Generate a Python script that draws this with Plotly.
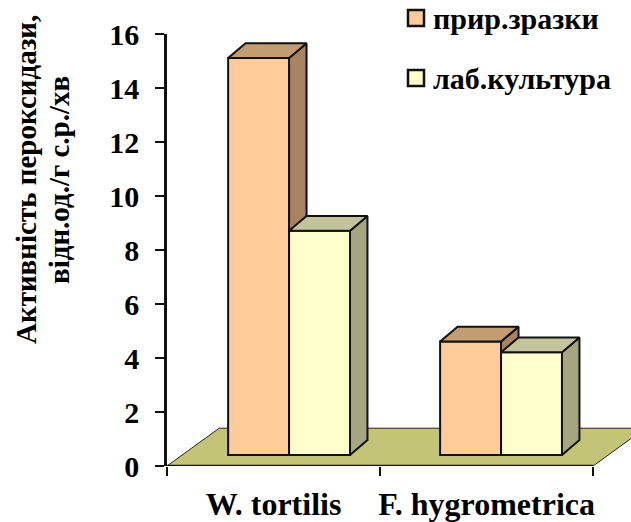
import plotly.graph_objects as go

categories = ["W. tortilis", "F. hygrometrica"]
series_names = ["прир.зразки", "лаб.культура"]
natural_samples = [14.7, 4.2]
lab_culture = [8.3, 3.8]
y_ticks = [0, 2, 4, 6, 8, 10, 12, 14, 16]
y_title_lines = ["Активність пероксидази,", "відн.од./г с.р./хв"]

FONT = "Liberation Serif"
BASE = 0.41      # bar foot above the axis zero because of the 3-D floor
WIDTH = 0.286    # bar width in axis units
DX, DY = 0.082, 0.55   # 3-D depth of a bar
GROUP_X = [0.43, 1.425]
FRONT = ["#FFCC99", "#FFFFCC"]

# plot-area geometry, in page pixels
W, H = 631, 522
L, B, T = 167, 56, 34
PW, PH = W - L, H - B          # paper area: x from L to W, y from 0 to H-B


def px(x):
    return (x - L) / PW


def py(y):
    return (H - B - y) / PH


fig = go.Figure()


def add_series(name, values, offset, front, top, side, xa, ya):
    xs = [g + offset for g in GROUP_X]
    fig.add_trace(go.Bar(
        x=xs, y=values, base=[BASE] * len(values), width=WIDTH, name=name,
        marker=dict(color=front, line=dict(color="#111111", width=2)),
        xaxis=xa, yaxis=ya, showlegend=False, hoverinfo="skip",
    ))
    for x, v in zip(xs, values):
        l, r = x - WIDTH / 2, x + WIDTH / 2
        t = BASE + v
        fig.add_trace(go.Scatter(
            x=[r, r + DX, r + DX, r, r], y=[BASE, BASE + DY, t + DY, t, BASE],
            mode="lines", fill="toself", fillcolor=side,
            line=dict(color="#111111", width=2), showlegend=False,
            xaxis=xa, yaxis=ya, hoverinfo="skip",
        ))
        fig.add_trace(go.Scatter(
            x=[l, l + DX, r + DX, r, l], y=[t, t + DY, t + DY, t, t],
            mode="lines", fill="toself", fillcolor=top,
            line=dict(color="#111111", width=2), showlegend=False,
            xaxis=xa, yaxis=ya, hoverinfo="skip",
        ))


add_series(series_names[0], natural_samples, 0, FRONT[0], "#C49C72", "#A88360", "x", "y")
add_series(series_names[1], lab_culture, 0.286, FRONT[1], "#C4C49C", "#A5A580", "x2", "y2")

# x axis line, drawn to the last category boundary only
fig.add_trace(go.Scatter(x=[0, 2], y=[0, 0], mode="lines", line=dict(color="#111111", width=2.5),
                         showlegend=False, hoverinfo="skip", cliponaxis=False))

x_range = [0, 2.178]
y_domain = [0, (H - B - T) / PH]
title_font = dict(size=29, family=FONT, weight="bold")
legend_font = dict(size=30, family=FONT, weight="bold")

shapes = [dict(type="path", xref="x", yref="y", layer="below",
               path="M 0 0 L 0.245 1.4 L 2.245 1.4 L 2 0 Z",
               fillcolor="#C4C477", line=dict(color="#222222", width=1))]
annotations = [dict(text=y_title_lines[0], xref="paper", yref="paper", x=px(26), y=py(180),
                    xanchor="center", yanchor="middle", textangle=-90, showarrow=False,
                    font=title_font),
               dict(text=y_title_lines[1], xref="paper", yref="paper", x=px(59), y=py(180),
                    xanchor="center", yanchor="middle", textangle=-90, showarrow=False,
                    font=title_font)]
for name, color, cy in zip(series_names, FRONT, [18, 78]):
    shapes.append(dict(type="rect", xref="paper", yref="paper",
                       x0=px(408), x1=px(424), y0=py(cy - 8), y1=py(cy + 8),
                       fillcolor=color, line=dict(color="#111111", width=2.5)))
    annotations.append(dict(text=name, xref="paper", yref="paper", x=px(432), y=py(cy),
                            xanchor="left", yanchor="middle", showarrow=False,
                            font=legend_font, borderpad=0))

fig.update_layout(
    width=W, height=H,
    margin=dict(l=L, r=0, t=0, b=B, autoexpand=False),
    showlegend=False,
    paper_bgcolor="white", plot_bgcolor="white",
    barmode="overlay",
    font=dict(family=FONT, color="black"),
    xaxis=dict(range=x_range, tickvals=[0.5, 1.5], ticktext=categories, ticks="",
               showgrid=False, zeroline=False, showline=False, automargin=False,
               ticklabelstandoff=16,
               tickfont=dict(size=32, family=FONT, weight="bold"),
               minor=dict(tickvals=[0, 1, 2], ticks="outside", ticklen=9, tickwidth=1.5,
                          tickcolor="#111111", showgrid=False)),
    yaxis=dict(range=[0, 16], domain=y_domain, tickvals=y_ticks, ticks="outside", ticklen=9,
               tickwidth=1.5, tickcolor="#111111", showgrid=False, zeroline=False, showline=True,
               linecolor="#111111", linewidth=2.5, automargin=False, ticklabelstandoff=10,
               tickfont=dict(size=30, family=FONT, weight="bold")),
    xaxis2=dict(range=x_range, overlaying="x", visible=False),
    yaxis2=dict(range=[0, 16], domain=y_domain, overlaying="y", visible=False),
    shapes=shapes,
    annotations=annotations,
)
fig.write_html("out.html", default_width=f"{W}px", default_height=f"{H}px",
               config={"displayModeBar": False},
               post_script="document.body.style.margin='0';document.documentElement.style.overflow='hidden';")
